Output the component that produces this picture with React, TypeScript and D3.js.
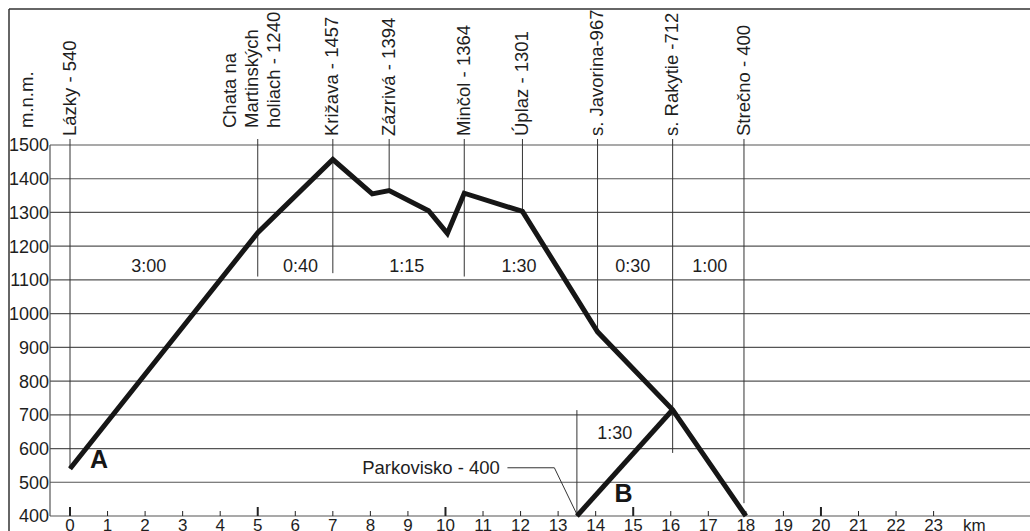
import * as d3 from 'd3';
import React from 'react';

// elevation profile (km, m n.m.)
const profileKm = [0, 5, 7, 8.05, 8.5, 9.55, 10.05, 10.5, 12.05, 14.05, 16.05, 18];
const profileElev = [540, 1240, 1457, 1355, 1365, 1305, 1238, 1357, 1303, 946, 715, 400];

// route B from the car park
const routeBKm = [13.5, 16.05];
const routeBElev = [400, 715];

// waypoints on top
const waypointNames = [
  ['Lázky - 540'],
  ['Chata na', 'Martinských', 'holiach - 1240'],
  ['Križava - 1457'],
  ['Zázrivá - 1394'],
  ['Minčol - 1364'],
  ['Úplaz - 1301'],
  ['s. Javorina-967'],
  ['s. Rakytie -712'],
  ['Strečno - 400'],
];
const waypointKm = [0, 5, 7, 8.5, 10.5, 12.05, 14.05, 16.05, 17.95];
const waypointLineEnd = [540, 1110, 1120, 1365, 1110, 1303, 946, 587, 438];

// walking times
const timeLabels = ['3:00', '0:40', '1:15', '1:30', '0:30', '1:00', '1:30'];
const timeKm = [2.1, 6.14, 8.97, 11.96, 14.99, 17.04, 14.51];
const timeElev = [1123, 1123, 1123, 1123, 1123, 1123, 628];

const yTicks = [400, 500, 600, 700, 800, 900, 1000, 1100, 1200, 1300, 1400, 1500];
const xTicks = d3.range(0, 24);
const majorTicks = [0, 5, 10, 15, 20];

// car park annotation
const parkLabel = 'Parkovisko - 400';
const parkLeaderKm = [11.65, 12.9, 13.5];
const parkLeaderElev = [543, 543, 405];
const parkLineKm = 13.5;
const parkLineElev = [714, 400];

const routeLetters = ['A', 'B'];
const routeLetterKm = [0.77, 14.74];
const routeLetterElev = [542, 441];

function App() {
  const width = 1030;
  const height = 531;
  const font = '"Liberation Sans", Arial, Helvetica, sans-serif';

  const x = d3.scaleLinear().domain([0, 23]).range([70, 933.6]);
  const y = d3.scaleLinear().domain([400, 1500]).range([516, 145]);

  const line = d3.line<[number, number]>()
    .x(d => x(d[0]))
    .y(d => y(d[1]));

  const profile = profileKm.map((k, i) => [k, profileElev[i]] as [number, number]);
  const routeB = routeBKm.map((k, i) => [k, routeBElev[i]] as [number, number]);
  const leader = parkLeaderKm.map((k, i) => [k, parkLeaderElev[i]] as [number, number]);

  const gridColor = '#555';
  const textColor = '#1e1e1e';

  return (
    <svg width={width} height={height} style={{ position: 'absolute', left: 0, top: 0, background: '#fff' }}
      fontFamily={font}>
      {/* frame */}
      <line x1={9} x2={width} y1={9} y2={9} stroke="#333" strokeWidth={1.5} />
      <line x1={9} x2={9} y1={9} y2={height} stroke="#333" strokeWidth={1.5} />

      {/* horizontal grid */}
      {yTicks.map(t => (
        <g key={t}>
          <line x1={50} x2={width} y1={y(t)} y2={y(t)} stroke={gridColor} strokeWidth={1.2} />
          <text x={49} y={y(t)} dy="0.36em" textAnchor="end" fontSize={18} fill={textColor}>{t}</text>
        </g>
      ))}
      <line x1={50} x2={50} y1={y(1500)} y2={y(400)} stroke={gridColor} strokeWidth={1.2} />

      <text transform={`translate(33,128) rotate(-90)`} fontSize={18.5} fill={textColor}>m.n.m.</text>

      {/* x ticks */}
      {xTicks.map(t => {
        const major = majorTicks.includes(t);
        return (
          <g key={t}>
            <line x1={x(t)} x2={x(t)} y1={y(400) - (major ? 9 : 5)} y2={y(400)}
              stroke="#222" strokeWidth={major ? 2 : 1} />
            <text x={x(t)} y={531} textAnchor="middle" fontSize={17} fill={textColor}>{t}</text>
          </g>
        );
      })}
      <text x={963} y={531} fontSize={17} fill={textColor}>km</text>

      {/* waypoint lines and labels */}
      {waypointKm.map((k, i) => {
        const names = waypointNames[i];
        const multi = names.length > 1;
        return (
          <g key={i}>
            <line x1={x(k)} x2={x(k)} y1={139} y2={y(waypointLineEnd[i])} stroke="#333" strokeWidth={1} />
            <text transform={`translate(${x(k)},${multi ? 128 : 136}) rotate(-90)`} fontSize={18.5} fill={textColor}>
              {multi
                ? names.map((n, j) => (
                    <tspan key={j} x={0} y={(j - 1) * 22}>{n}</tspan>
                  ))
                : <tspan x={0} dy="0.3em">{names[0]}</tspan>}
            </text>
          </g>
        );
      })}

      {/* car park */}
      <line x1={x(parkLineKm)} x2={x(parkLineKm)} y1={y(parkLineElev[0])} y2={y(parkLineElev[1])}
        stroke="#333" strokeWidth={1} />
      <path d={line(leader) || ''} fill="none" stroke="#333" strokeWidth={1} />
      <text x={x(11.45)} y={y(543)} dy="0.36em" textAnchor="end" fontSize={18.5} fill={textColor}>{parkLabel}</text>

      {/* times */}
      {timeLabels.map((t, i) => (
        <text key={i} x={x(timeKm[i])} y={y(timeElev[i])} textAnchor="middle" fontSize={18} fill={textColor}>{t}</text>
      ))}

      {/* profiles */}
      <path d={line(profile) || ''} fill="none" stroke="#161616" strokeWidth={5} strokeLinejoin="miter" />
      <path d={line(routeB) || ''} fill="none" stroke="#161616" strokeWidth={5} />

      {routeLetters.map((l, i) => (
        <text key={l} x={x(routeLetterKm[i])} y={y(routeLetterElev[i])} textAnchor="middle"
          fontSize={25} fontWeight="bold" fill="#161616">{l}</text>
      ))}
    </svg>
  );
}

export default App;
